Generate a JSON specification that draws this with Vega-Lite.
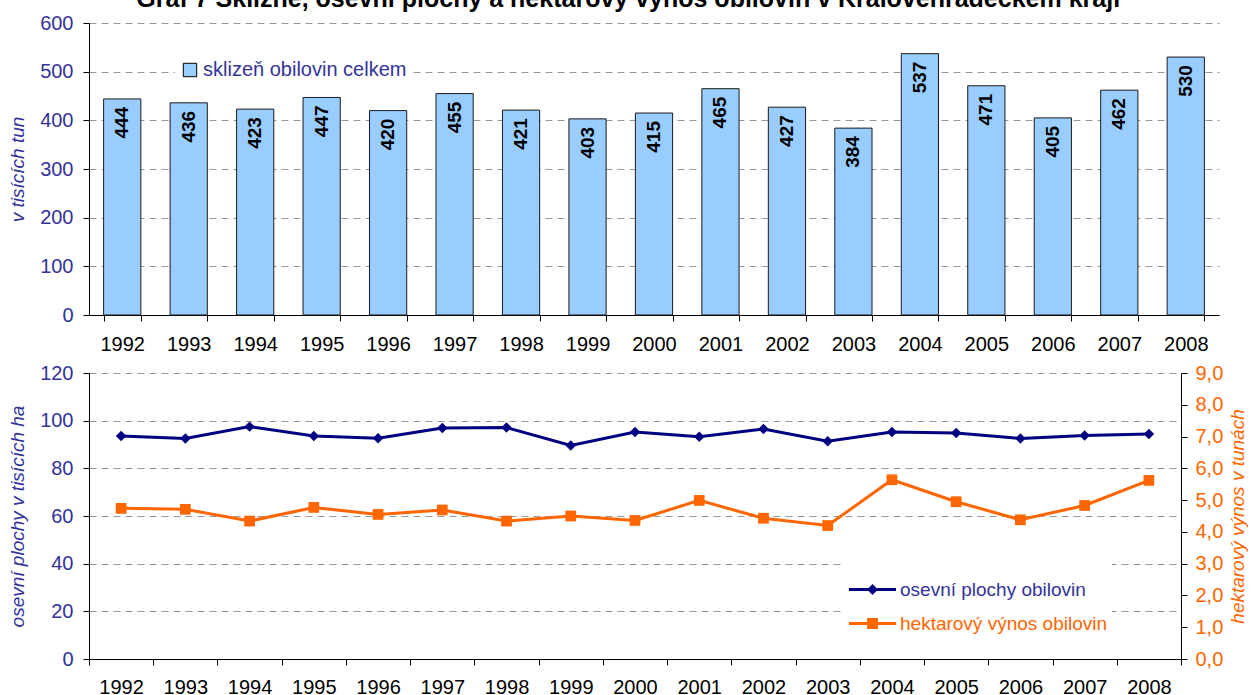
{
  "$schema": "https://vega.github.io/schema/vega-lite/v6.json",
  "padding": {"left": 8, "top": -13, "right": 0, "bottom": 0},
  "background": "white",
  "title": {"text": "Graf 7 Sklizně, osevní plochy a hektarový výnos obilovin v Královéhradeckém kraji", "fontSize": 25, "font": "Liberation Sans", "fontWeight": "bold", "color": "black", "anchor": "middle", "offset": 1},
  "config": {
    "font": "Liberation Sans",
    "view": {"stroke": null},
    "axis": {"labelFont": "Liberation Sans", "labelFontSize": 20, "titleFont": "Liberation Sans", "titleFontSize": 19, "titleFontStyle": "italic", "titleFontWeight": "normal", "domainColor": "black", "tickColor": "black", "tickSize": 6, "gridColor": "#999999", "gridDash": [7, 5], "labelPadding": 10},
    "legend": {"labelFont": "Liberation Sans", "labelLimit": 0}
  },
  "spacing": 9,
  "resolve": {"scale": {"color": "independent"}, "legend": {"color": "independent"}},
  "vconcat": [
    {
      "width": 1130,
      "height": 292,
      "data": {"values": [
        {"year": "1992", "sklizen": 444}, {"year": "1993", "sklizen": 436}, {"year": "1994", "sklizen": 423},
        {"year": "1995", "sklizen": 447}, {"year": "1996", "sklizen": 420}, {"year": "1997", "sklizen": 455},
        {"year": "1998", "sklizen": 421}, {"year": "1999", "sklizen": 403}, {"year": "2000", "sklizen": 415},
        {"year": "2001", "sklizen": 465}, {"year": "2002", "sklizen": 427}, {"year": "2003", "sklizen": 384},
        {"year": "2004", "sklizen": 537}, {"year": "2005", "sklizen": 471}, {"year": "2006", "sklizen": 405},
        {"year": "2007", "sklizen": 462}, {"year": "2008", "sklizen": 530}
      ]},
      "encoding": {
        "x": {"field": "year", "type": "ordinal", "scale": {"paddingInner": 0.44, "paddingOuter": 0.22},
              "axis": {"title": null, "labelAngle": 0, "tickBand": "extent", "labelColor": "black", "labelPadding": 13, "grid": false}},
        "y": {"field": "sklizen", "type": "quantitative", "scale": {"domain": [0, 600]},
              "axis": {"title": "v tisících tun", "values": [0, 100, 200, 300, 400, 500, 600], "labelColor": "#333399", "titleColor": "#333399", "grid": true, "titlePadding": 12}}
      },
      "layer": [
        {
          "mark": {"type": "bar", "stroke": "#1a1a1a", "strokeWidth": 1},
          "encoding": {
            "color": {"datum": "sklizeň obilovin celkem", "scale": {"domain": ["sklizeň obilovin celkem"], "range": ["#99CCFF"]},
                      "legend": {"title": null, "orient": "none", "legendX": 86, "legendY": 32, "fillColor": "white", "padding": 5, "symbolType": "square", "symbolSize": 180, "symbolStrokeColor": "black", "symbolStrokeWidth": 1, "symbolFillColor": "#99CCFF", "labelFontSize": 20, "labelColor": "#333399", "labelOffset": 3}}
          }
        },
        {
          "mark": {"type": "text", "angle": 270, "align": "right", "baseline": "middle", "dx": -8, "fontSize": 19, "fontWeight": "bold", "color": "black"},
          "encoding": {"text": {"field": "sklizen", "type": "quantitative"}}
        }
      ]
    },
    {
      "width": 1092,
      "height": 286,
      "data": {"values": [
        {"year": "1992", "plocha": 93.6, "vynos": 4.74}, {"year": "1993", "plocha": 92.5, "vynos": 4.71},
        {"year": "1994", "plocha": 97.5, "vynos": 4.34}, {"year": "1995", "plocha": 93.6, "vynos": 4.77},
        {"year": "1996", "plocha": 92.6, "vynos": 4.55}, {"year": "1997", "plocha": 96.9, "vynos": 4.69},
        {"year": "1998", "plocha": 97.1, "vynos": 4.34}, {"year": "1999", "plocha": 89.6, "vynos": 4.5},
        {"year": "2000", "plocha": 95.2, "vynos": 4.36}, {"year": "2001", "plocha": 93.3, "vynos": 4.99},
        {"year": "2002", "plocha": 96.5, "vynos": 4.43}, {"year": "2003", "plocha": 91.4, "vynos": 4.2},
        {"year": "2004", "plocha": 95.2, "vynos": 5.64}, {"year": "2005", "plocha": 94.8, "vynos": 4.95},
        {"year": "2006", "plocha": 92.5, "vynos": 4.38}, {"year": "2007", "plocha": 93.8, "vynos": 4.83},
        {"year": "2008", "plocha": 94.4, "vynos": 5.62}
      ]},
      "encoding": {
        "x": {"field": "year", "type": "ordinal",
              "axis": {"title": null, "labelAngle": 0, "tickBand": "extent", "labelColor": "black", "labelPadding": 12, "grid": false}}
      },
      "layer": [
        {
          "encoding": {
            "y": {"field": "plocha", "type": "quantitative", "scale": {"domain": [0, 120]},
                  "axis": {"orient": "left", "title": "osevní plochy v tisících ha", "values": [0, 20, 40, 60, 80, 100, 120], "grid": true, "labelColor": "#333399", "titleColor": "#333399", "titlePadding": 12}},
            "color": {"datum": "osevní plochy obilovin",
                      "scale": {"domain": ["osevní plochy obilovin", "hektarový výnos obilovin"], "range": ["#000080", "#FF6600"]},
                      "legend": {"title": null, "orient": "none", "legendX": 755, "legendY": 188, "fillColor": "white", "padding": 5, "symbolSize": 2209, "labelFontSize": 19, "rowPadding": 0, "labelOffset": 4, "labelLimit": 0,
                                 "encode": {
                                   "symbols": {"update": {
                                     "shape": {"signal": "datum.value === 'hektarový výnos obilovin' ? 'M-1,-0.065L1,-0.065L1,0.065L-1,0.065Z M-0.23,-0.23L0.23,-0.23L0.23,0.23L-0.23,0.23Z' : 'M-1,-0.065L1,-0.065L1,0.065L-1,0.065Z M0,-0.23L0.23,0L0,0.23L-0.23,0Z'"},
                                     "fill": {"signal": "datum.value === 'hektarový výnos obilovin' ? '#FF6600' : '#000080'"},
                                     "stroke": {"value": "transparent"},
                                     "strokeWidth": {"value": 0},
                                     "opacity": {"value": 1},
                                     "size": {"value": 2209}
                                   }},
                                   "labels": {"update": {
                                     "fill": {"signal": "datum.value === 'hektarový výnos obilovin' ? '#FF6600' : '#333399'"}
                                   }}
                                 }}}
          },
          "layer": [
            {"mark": {"type": "line", "strokeWidth": 3}},
            {"mark": {"type": "point", "shape": "diamond", "filled": true, "size": 110, "opacity": 1}}
          ]
        },
        {
          "encoding": {
            "y": {"field": "vynos", "type": "quantitative", "scale": {"domain": [0, 9]},
                  "axis": {"orient": "right", "title": "hektarový výnos v tunách", "values": [0, 1, 2, 3, 4, 5, 6, 7, 8, 9], "grid": false,
                           "labelExpr": "replace(format(datum.value, '.1f'), '.', ',')", "labelColor": "#FF6600", "titleColor": "#FF6600",
                           "titleAngle": 270, "titleBaseline": "top", "labelPadding": 8, "titlePadding": 6}},
            "color": {"datum": "hektarový výnos obilovin"}
          },
          "layer": [
            {"mark": {"type": "line", "strokeWidth": 3}},
            {"mark": {"type": "point", "shape": "square", "filled": true, "size": 115, "opacity": 1}}
          ]
        }
      ],
      "resolve": {"scale": {"y": "independent"}}
    }
  ]
}
